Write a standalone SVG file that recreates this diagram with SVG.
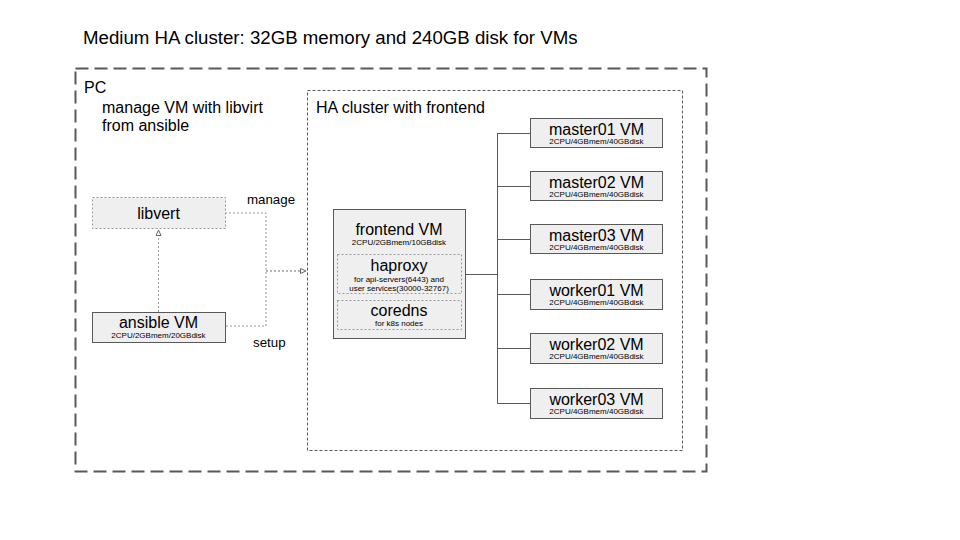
<svg xmlns="http://www.w3.org/2000/svg" width="960" height="540" viewBox="0 0 960 540">
<style>
text{font-family:"Liberation Sans",Arial,sans-serif;fill:#000}
.t{font-size:16px}
.s{font-size:8px}
.c{text-anchor:middle}
.vm{fill:#efefef;stroke:#595959;stroke-width:1}
.dot{fill:#efefef;stroke:#999;stroke-width:1;stroke-dasharray:2,2}
.tree{fill:none;stroke:#595959;stroke-width:1}
.con{fill:none;stroke:#999;stroke-width:1;stroke-dasharray:2,2}
</style>
<defs>
<marker id="arr" markerWidth="8" markerHeight="8" refX="6" refY="3" orient="auto" markerUnits="userSpaceOnUse">
<path d="M0.5,0.5 L6,3 L0.5,5.5 Z" fill="#fff" stroke="#666" stroke-width="1"/>
</marker>
</defs>
<rect width="960" height="540" fill="#fff"/>
<text x="83" y="44" style="font-size:18.67px">Medium HA cluster: 32GB memory and 240GB disk for VMs</text>

<g id="pc">
<rect x="75.5" y="68.5" width="631" height="403" fill="none" stroke="#595959" stroke-width="2" stroke-dasharray="13,6"/>
<text x="84" y="93" class="t">PC</text>
<text x="102" y="113" class="t">manage VM with libvirt</text>
<text x="102" y="131" class="t">from ansible</text>
</g>

<g id="ha-cluster">
<rect x="307.5" y="90.5" width="375" height="360" fill="none" stroke="#595959" stroke-width="1" stroke-dasharray="3,2"/>
<text x="316" y="113" class="t">HA cluster with frontend</text>
</g>

<g id="connectors">
<polyline class="con" points="225,213 266,213 266,326 225,326"/>
<line x1="266" y1="271" x2="306" y2="271" stroke="#666" stroke-width="1" stroke-dasharray="2,2" marker-end="url(#arr)"/>
<line x1="158.5" y1="312" x2="158.5" y2="230" class="con" marker-end="url(#arr)"/>
<polyline class="tree" points="465,274.5 497.5,274.5"/>
<line class="tree" x1="497.5" y1="133" x2="497.5" y2="403.5"/>
<line class="tree" x1="497.5" y1="133.5" x2="530" y2="133.5"/>
<line class="tree" x1="497.5" y1="186.5" x2="530" y2="186.5"/>
<line class="tree" x1="497.5" y1="239.5" x2="530" y2="239.5"/>
<line class="tree" x1="497.5" y1="294.5" x2="530" y2="294.5"/>
<line class="tree" x1="497.5" y1="348.5" x2="530" y2="348.5"/>
<line class="tree" x1="497.5" y1="403.5" x2="530" y2="403.5"/>
<text x="247" y="204" style="font-size:13.3px">manage</text>
<text x="253" y="347" style="font-size:13.3px">setup</text>
</g>

<g id="libvert">
<rect class="dot" x="92.5" y="197.5" width="133" height="31"/>
<text x="158.5" y="219" class="t c">libvert</text>
</g>

<g id="ansible-vm">
<rect class="vm" x="92.5" y="312.5" width="133" height="30"/>
<text x="158.5" y="328" class="t c">ansible VM</text>
<text x="158.5" y="338" class="s c">2CPU/2GBmem/20GBdisk</text>
</g>

<g id="frontend-vm">
<rect class="vm" x="333.5" y="209.5" width="132" height="129"/>
<text x="399" y="235" class="t c">frontend VM</text>
<text x="399" y="245" class="s c">2CPU/2GBmem/10GBdisk</text>
</g>
<g id="haproxy">
<rect class="dot" x="337.5" y="254.5" width="124" height="39"/>
<text x="399" y="271" class="t c">haproxy</text>
<text x="399" y="282" class="s c">for api-servers(6443) and</text>
<text x="399" y="291" class="s c">user services(30000-32767)</text>
</g>
<g id="coredns">
<rect class="dot" x="337.5" y="300.5" width="124" height="29"/>
<text x="399" y="316" class="t c">coredns</text>
<text x="399" y="326" class="s c">for k8s nodes</text>
</g>

<g id="master01">
<rect class="vm" x="530.5" y="118.5" width="132" height="29"/>
<text x="596.5" y="135" class="t c">master01 VM</text>
<text x="596.5" y="144" class="s c">2CPU/4GBmem/40GBdisk</text>
</g>
<g id="master02">
<rect class="vm" x="530.5" y="171.5" width="132" height="29"/>
<text x="596.5" y="188" class="t c">master02 VM</text>
<text x="596.5" y="197" class="s c">2CPU/4GBmem/40GBdisk</text>
</g>
<g id="master03">
<rect class="vm" x="530.5" y="224.5" width="132" height="29"/>
<text x="596.5" y="241" class="t c">master03 VM</text>
<text x="596.5" y="250" class="s c">2CPU/4GBmem/40GBdisk</text>
</g>
<g id="worker01">
<rect class="vm" x="530.5" y="279.5" width="132" height="30"/>
<text x="596.5" y="296" class="t c">worker01 VM</text>
<text x="596.5" y="305" class="s c">2CPU/4GBmem/40GBdisk</text>
</g>
<g id="worker02">
<rect class="vm" x="530.5" y="333.5" width="132" height="30"/>
<text x="596.5" y="350" class="t c">worker02 VM</text>
<text x="596.5" y="359" class="s c">2CPU/4GBmem/40GBdisk</text>
</g>
<g id="worker03">
<rect class="vm" x="530.5" y="388.5" width="132" height="30"/>
<text x="596.5" y="405" class="t c">worker03 VM</text>
<text x="596.5" y="414" class="s c">2CPU/4GBmem/40GBdisk</text>
</g>
</svg>
